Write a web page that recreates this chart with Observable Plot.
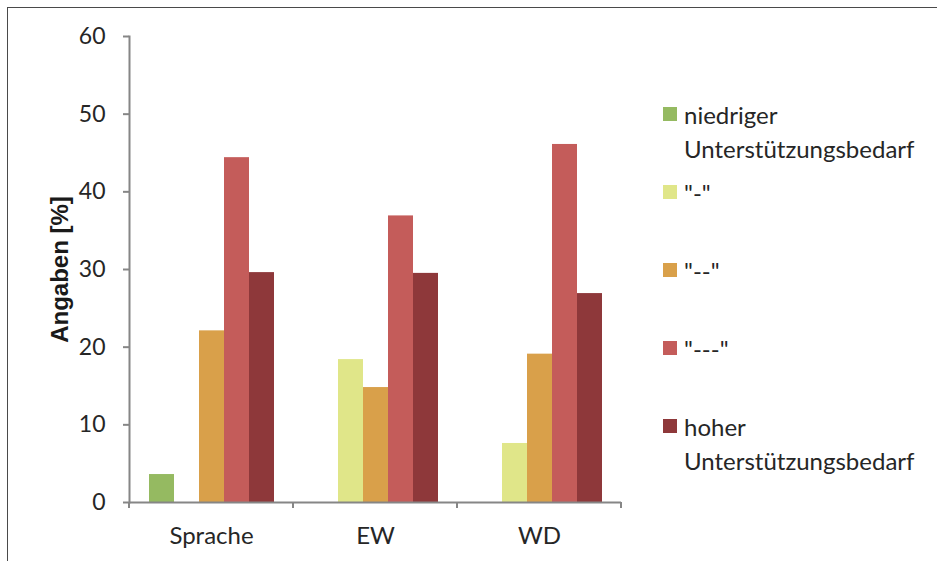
<!DOCTYPE html>
<html><head><meta charset="utf-8">
<script src="https://cdn.jsdelivr.net/npm/d3@7"></script>
<script src="https://cdn.jsdelivr.net/npm/@observablehq/plot@0.6"></script>
<style>
html,body{margin:0;padding:0;background:#fff;}
#wrap{position:relative;width:937px;height:561px;overflow:hidden;font-family:Lato,"Open Sans",sans-serif;background:#fff;}
#border{position:absolute;left:7px;top:7px;width:1200px;height:1200px;border:1.5px solid #4a4a4a;box-sizing:border-box;}
#chart{position:absolute;left:0;top:0;}
#legend{position:absolute;left:663px;top:98px;}
.item{position:relative;height:78px;}
.sw{position:absolute;left:0;top:9px;width:14px;height:14px;}
.lab{position:absolute;left:21px;top:0;width:260px;font-size:24px;line-height:34px;color:#262626;}
</style></head><body>
<div id="wrap"><div id="border"></div><div id="chart"></div><div id="legend"></div></div>
<script>
const categories = ["Sprache", "EW", "WD"];
const series = ["niedriger Unterstützungsbedarf", "\"-\"", "\"--\"", "\"---\"", "hoher Unterstützungsbedarf"];
const colors = ["#95BA61", "#E0E689", "#D9A04A", "#C45C5A", "#8E383A"];
const niedriger = [3.6, 0, 0];
const minus1 = [0, 18.4, 7.6];
const minus2 = [22.1, 14.8, 19.1];
const minus3 = [44.4, 36.9, 46.1];
const hoher = [29.6, 29.5, 26.9];
const yTicks = [0, 10, 20, 30, 40, 50, 60];
const yLabel = "Angaben [%]";

const values = [niedriger, minus1, minus2, minus3, hoher];
const data = [];
series.forEach((s, i) => categories.forEach((c, j) => data.push({category: c, series: s, value: values[i][j]})));

function boundaryTicks(index, scales, vals, dimensions) {
  const g = d3.create("svg:g");
  const y0 = scales.y(0);
  const [a, b] = scales.x.range();
  for (const xx of [a, b]) {
    g.append("line").attr("x1", xx).attr("x2", xx).attr("y1", y0).attr("y2", y0 + 6)
      .attr("stroke", "#868686").attr("stroke-width", 2);
  }
  return g.node();
}

const chart = Plot.plot({
  width: 650,
  height: 561,
  marginLeft: 128,
  marginRight: 29,
  marginTop: 36,
  marginBottom: 59,
  style: {fontFamily: "Lato, 'Open Sans', sans-serif", background: "transparent", overflow: "visible"},
  fx: {domain: categories, padding: 0, label: null},
  x: {domain: series, paddingInner: 0, paddingOuter: 0.75, axis: null},
  y: {domain: [0, 60]},
  color: {domain: series, range: colors},
  marks: [
    Plot.barY(data, {fx: "category", x: "series", y: "value", fill: "series", inset: 0}),
    Plot.ruleY([0], {stroke: "#868686", strokeWidth: 2}),
    Plot.frame({anchor: "left", facetAnchor: "left", stroke: "#868686", strokeWidth: 2}),
    boundaryTicks,
    Plot.axisY({ticks: yTicks, tickSize: 6, tickPadding: 18, fontSize: 23, label: null, stroke: "#868686", strokeWidth: 2, fill: "#262626"}),
    Plot.axisFx({anchor: "bottom", tickSize: 0, tickPadding: 24, fontSize: 24, label: null, fill: "#262626"}),
    Plot.text([yLabel], {facet: "super", frameAnchor: "left", textAnchor: "middle", rotate: -90, dx: -69, fontSize: 24, fontWeight: "bold", fontFamily: "'Liberation Sans', Arial, sans-serif", fill: "#1a1a1a"})
  ]
});
document.getElementById("chart").appendChild(chart);

const legend = document.getElementById("legend");
series.forEach((s, i) => {
  const item = document.createElement("div");
  item.className = "item";
  const sw = document.createElement("div");
  sw.className = "sw";
  sw.style.background = colors[i];
  const lab = document.createElement("div");
  lab.className = "lab";
  lab.textContent = s;
  item.appendChild(sw);
  item.appendChild(lab);
  legend.appendChild(item);
});
</script>
</body></html>
